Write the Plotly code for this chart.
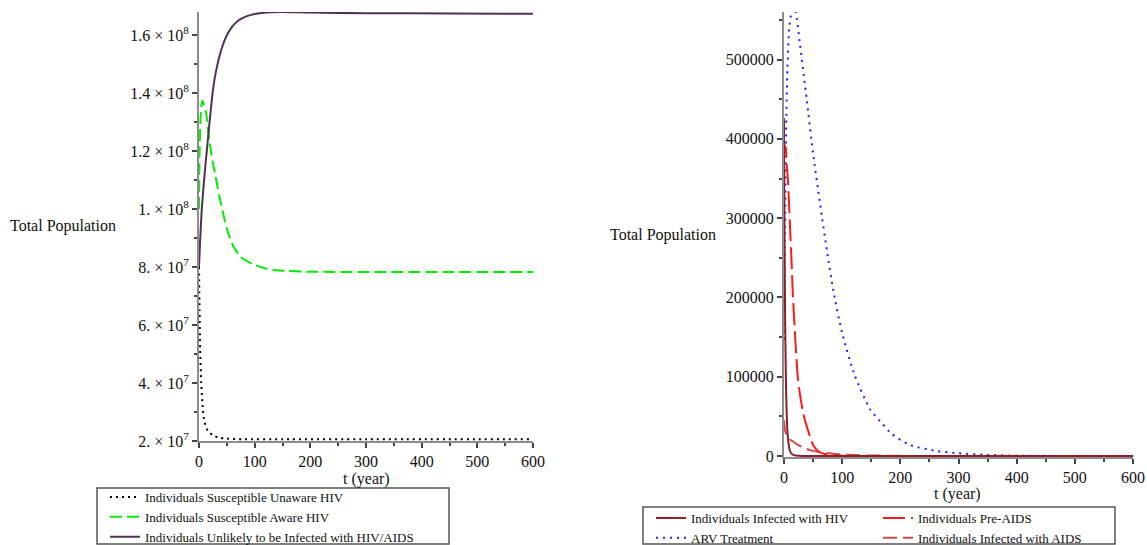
import plotly.graph_objects as go

W, H = 1147, 545

# ---------------- Left panel data ----------------
t_unaware = [0, 1, 2, 4, 7, 10, 16, 25, 35, 50, 80, 150, 300, 600]
unaware = [8.0e7, 6.5e7, 5.2e7, 4.0e7, 3.1e7, 2.65e7, 2.35e7, 2.2e7, 2.12e7, 2.08e7, 2.06e7, 2.06e7, 2.06e7, 2.06e7]

t_aware = [0, 1, 3, 6, 9, 13, 17, 23, 29, 36, 44, 52, 62, 75, 97, 120, 145, 200, 300, 450, 600]
aware = [1.0e8, 1.2e8, 1.32e8, 1.375e8, 1.36e8, 1.33e8, 1.26e8, 1.18e8, 1.12e8, 1.05e8, 9.8e7,
         9.2e7, 8.7e7, 8.35e7, 8.1e7, 7.95e7, 7.88e7, 7.84e7, 7.83e7, 7.83e7, 7.83e7]

t_unlikely = [0, 2, 5, 10, 14, 20, 25, 30, 40, 50, 60, 70, 85, 100, 120, 145, 200, 300, 450, 600]
unlikely = [8.0e7, 8.9e7, 1.0e8, 1.12e8, 1.2e8, 1.32e8, 1.41e8, 1.47e8, 1.55e8, 1.60e8, 1.63e8,
            1.65e8, 1.665e8, 1.673e8, 1.678e8, 1.680e8, 1.678e8, 1.676e8, 1.675e8, 1.674e8]

left_ytick_vals = [2e7, 4e7, 6e7, 8e7, 1e8, 1.2e8, 1.4e8, 1.6e8]
left_ytick_text = ["2. × 10<sup>7</sup>", "4. × 10<sup>7</sup>", "6. × 10<sup>7</sup>", "8. × 10<sup>7</sup>",
                   "1. × 10<sup>8</sup>", "1.2 × 10<sup>8</sup>", "1.4 × 10<sup>8</sup>", "1.6 × 10<sup>8</sup>"]

# ---------------- Right panel data ----------------
t_hiv = [0, 0.5, 1, 2, 3, 4, 5, 6, 8, 10, 13, 17, 25, 40, 100, 600]
hiv = [426000, 330000, 260000, 170000, 110000, 70000, 45000, 30000, 15000, 7000, 3000, 1200, 300, 50, 0, 0]

t_pre = [0, 1, 3, 5, 7, 9, 11, 13, 15, 18, 21, 24, 27, 33, 38, 45, 50, 60, 70, 85, 100, 150, 200, 600]
pre_aids = [380000, 392000, 388000, 365000, 345000, 312000, 278000, 245000, 208000, 165000, 128000,
            97000, 80000, 54000, 40000, 24000, 14000, 5500, 2500, 900, 400, 50, 10, 0]

t_arv = [0, 1.5, 3.5, 6, 9, 13, 16, 20, 27, 39, 50, 62, 74, 85, 100, 122, 148, 170, 185, 216, 262,
         300, 350, 400, 450, 500, 600]
arv = [147000, 270000, 405000, 490000, 540000, 560000, 565000, 560000, 522000, 450000, 382000,
       318000, 258000, 208000, 155000, 101000, 59000, 40000, 28000, 14000, 6500, 3500, 1500,
       600, 250, 100, 20]

t_aids = [0, 2, 5, 10, 16, 24, 35, 50, 60, 73, 85, 100, 120, 150, 200, 250, 300, 400, 600]
aids = [45000, 32000, 26000, 21000, 18000, 14000, 10000, 6500, 5000, 3800, 2800, 2000, 1300, 700,
        250, 100, 40, 5, 0]

right_ytick_vals = [0, 100000, 200000, 300000, 400000, 500000]
x_ticks = [0, 100, 200, 300, 400, 500, 600]

SERIF = "Liberation Serif"
fig = go.Figure()

# left traces
fig.add_trace(go.Scatter(x=t_unaware, y=unaware, mode="lines", name="Individuals Susceptible Unaware HIV",
                         line=dict(color="#000000", width=2, dash="2px,4px", shape="spline", smoothing=0.6),
                         xaxis="x", yaxis="y", legend="legend"))
fig.add_trace(go.Scatter(x=t_aware, y=aware, mode="lines", name="Individuals Susceptible Aware HIV",
                         line=dict(color="#00ee00", width=2, dash="12px,5px", shape="spline", smoothing=0.6),
                         xaxis="x", yaxis="y", legend="legend"))
fig.add_trace(go.Scatter(x=t_unlikely, y=unlikely, mode="lines",
                         name="Individuals Unlikely to be Infected with HIV/AIDS",
                         line=dict(color="#4d3352", width=2, shape="spline", smoothing=0.6),
                         xaxis="x", yaxis="y", legend="legend"))

# right traces
fig.add_trace(go.Scatter(x=t_arv, y=arv, mode="lines", name="ARV Treatment",
                         line=dict(color="#1f1fff", width=2, dash="2px,5px", shape="spline", smoothing=0.6),
                         xaxis="x2", yaxis="y2", legend="legend2", legendrank=2))
fig.add_trace(go.Scatter(x=t_aids, y=aids, mode="lines", name="Individuals Infected with AIDS",
                         line=dict(color="#d04a4a", width=2, dash="14px,6px", shape="spline", smoothing=0.6),
                         xaxis="x2", yaxis="y2", legend="legend3", legendrank=2))
fig.add_trace(go.Scatter(x=t_pre, y=pre_aids, mode="lines", name="Individuals Pre-AIDS",
                         line=dict(color="#ff1a1a", width=2, dash="22px,6px", shape="spline", smoothing=0.6),
                         xaxis="x2", yaxis="y2", legend="legend3", legendrank=1))
fig.add_trace(go.Scatter(x=t_hiv, y=hiv, mode="lines", name="Individuals Infected with HIV",
                         line=dict(color="#8b1f24", width=2, shape="spline", smoothing=0.6),
                         xaxis="x2", yaxis="y2", legend="legend2", legendrank=1))


def px_x(p):
    return p / W


def px_y(p):
    return 1 - p / H


axis_common = dict(showgrid=False, zeroline=False, showline=True, linecolor="#8c8c8c", linewidth=2,
                   ticks="outside", ticklen=5, tickwidth=1.5, tickcolor="#444444",
                   tickfont=dict(family=SERIF, size=16, color="#111111"), layer="below traces",
                   fixedrange=True)

legend_common = dict(xanchor="left", yanchor="top", orientation="v",
                     font=dict(family=SERIF, size=13, color="#111111"), bgcolor="rgba(0,0,0,0)",
                     borderwidth=0, tracegroupgap=0, traceorder="normal")

fig.update_layout(
    width=W, height=H,
    margin=dict(l=0, r=0, t=0, b=0, autoexpand=False),
    paper_bgcolor="white", plot_bgcolor="white",
    font=dict(family=SERIF, size=14, color="#111111"),
    xaxis=dict(domain=[px_x(199), px_x(533)], range=[0, 600], anchor="y", tickvals=x_ticks,
               minor=dict(dtick=50, ticklen=3, tickcolor="#444444", ticks="outside"), **axis_common),
    yaxis=dict(domain=[px_y(441), px_y(12)], range=[2e7, 1.68e8], anchor="x",
               tickvals=left_ytick_vals, ticktext=left_ytick_text,
               minor=dict(dtick=1e7, tick0=0, ticklen=3, tickcolor="#444444", ticks="outside"), **axis_common),
    xaxis2=dict(domain=[px_x(784), px_x(1133)], range=[0, 600], anchor="y2", tickvals=x_ticks,
                minor=dict(dtick=50, ticklen=3, tickcolor="#444444", ticks="outside"), **axis_common),
    yaxis2=dict(domain=[px_y(457), px_y(12)], range=[-1200, 560000], anchor="x2",
                tickvals=right_ytick_vals, ticktext=[str(v) for v in right_ytick_vals],
                minor=dict(dtick=50000, tick0=0, ticklen=3, tickcolor="#444444", ticks="outside"), **axis_common),
    legend=dict(x=px_x(105), y=px_y(482), **legend_common),
    legend2=dict(x=px_x(651), y=px_y(503), **legend_common),
    legend3=dict(x=px_x(878), y=px_y(503), **legend_common),
    showlegend=True,
    shapes=[
        dict(type="rect", xref="paper", yref="paper", x0=px_x(97), x1=px_x(449), y0=px_y(544), y1=px_y(488),
             line=dict(color="#555555", width=1.5), fillcolor="rgba(0,0,0,0)"),
        dict(type="rect", xref="paper", yref="paper", x0=px_x(643), x1=px_x(1115), y0=px_y(544), y1=px_y(507),
             line=dict(color="#555555", width=1.5), fillcolor="rgba(0,0,0,0)"),
    ],
    annotations=[
        dict(text="Total Population", x=px_x(63), y=px_y(226), xref="paper", yref="paper",
             showarrow=False, xanchor="center", yanchor="middle", font=dict(family=SERIF, size=16)),
        dict(text="t (year)", x=px_x(366), y=px_y(479), xref="paper", yref="paper",
             showarrow=False, xanchor="center", yanchor="middle", font=dict(family=SERIF, size=16)),
        dict(text="Total Population", x=px_x(663), y=px_y(235), xref="paper", yref="paper",
             showarrow=False, xanchor="center", yanchor="middle", font=dict(family=SERIF, size=16)),
        dict(text="t (year)", x=px_x(957), y=px_y(494), xref="paper", yref="paper",
             showarrow=False, xanchor="center", yanchor="middle", font=dict(family=SERIF, size=16)),
    ],
)

fig.write_html("out.html", config={"displayModeBar": False},
               post_script="document.body.style.margin='0px';document.body.style.overflow='hidden';")
